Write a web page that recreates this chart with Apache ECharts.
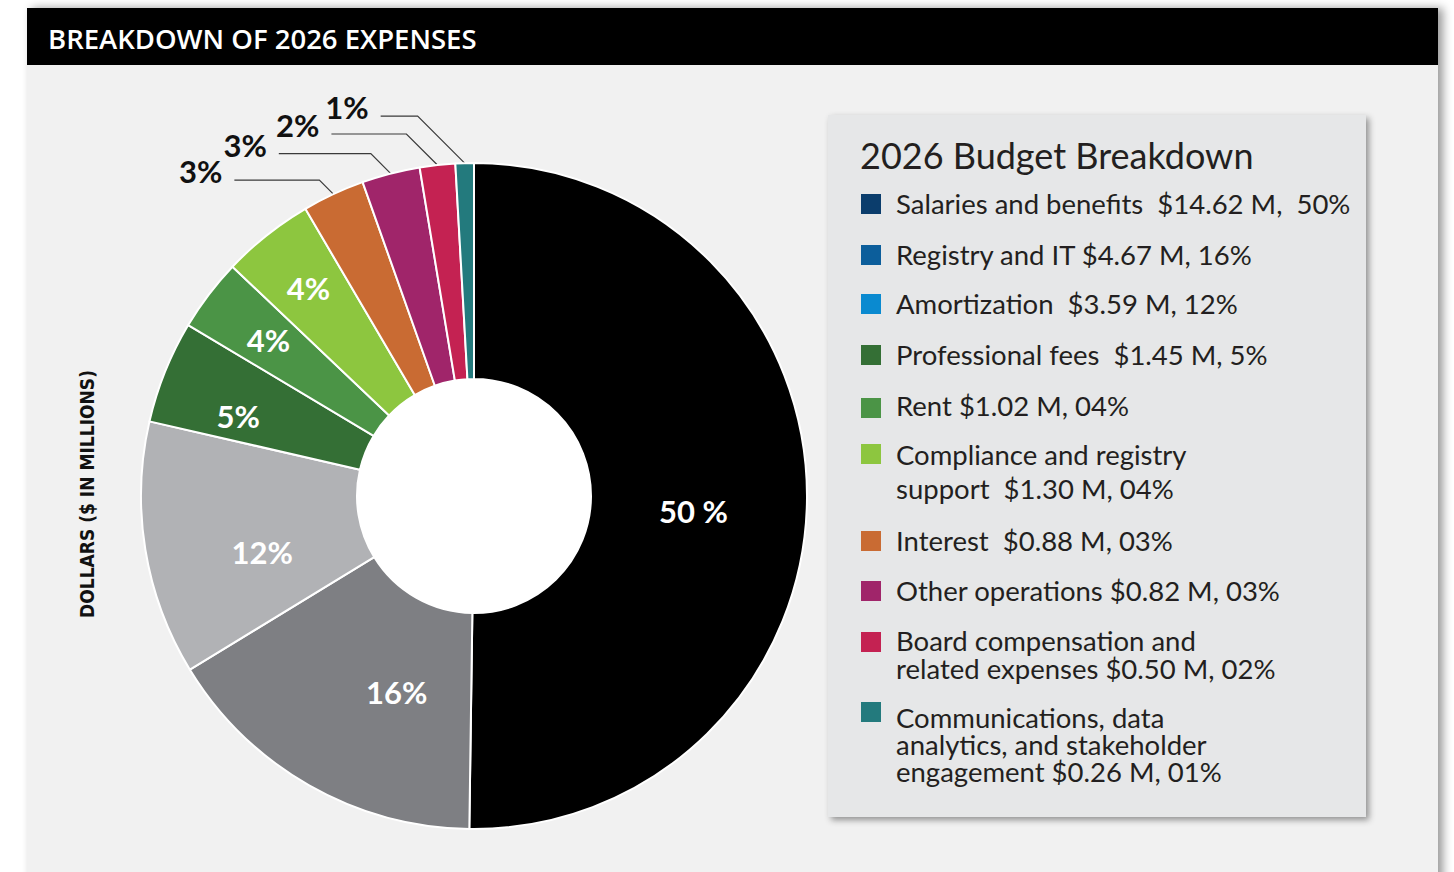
<!DOCTYPE html>
<html>
<head>
<meta charset="utf-8">
<title>Breakdown of 2026 Expenses</title>
<script src="https://cdn.jsdelivr.net/npm/echarts@6/dist/echarts.min.js"></script>
<style>
  html, body { margin: 0; padding: 0; background: #ffffff; }
  #chart { width: 1454px; height: 872px; }
</style>
</head>
<body>
<div id="chart"></div>
<script>
// ---- Data -------------------------------------------------------------
const categories = [
  'Salaries and benefits',
  'Registry and IT',
  'Amortization',
  'Professional fees',
  'Rent',
  'Compliance and registry\nsupport',
  'Interest',
  'Other operations',
  'Board compensation and\nrelated expenses',
  'Communications, data\nanalytics, and stakeholder\nengagement'
];
const amounts = [14.62, 4.67, 3.59, 1.45, 1.02, 1.30, 0.88, 0.82, 0.50, 0.26]; // $ millions
const sliceLabels = ['50 %', '16%', '12%', '5%', '4%', '4%', '3%', '3%', '2%', '1%'];
const legendPercents = ['50%', '16%', '12%', '5%', '04%', '04%', '03%', '03%', '02%', '01%'];

// ---- Styling ----------------------------------------------------------
const sliceColors = ['#000000', '#7e7f83', '#b1b2b5', '#346f35', '#4b9446', '#8dc63f',
                     '#c96b33', '#a0256a', '#c42252', '#237a7d'];
const swatchColors = ['#0b3d6c', '#0c5e9b', '#0a8ad0', '#346f35', '#4b9446', '#8dc63f',
                      '#c96b33', '#a0256a', '#c42252', '#237a7d'];
const nameGap  = ['  ', ' ', '  ', '  ', ' ', '  ', '  ', ' ', ' ', ' '];
const commaGap = ['  ', ' ', ' ', ' ', ' ', ' ', ' ', ' ', ' ', ' '];

const pieCenter = [474, 496];
const pieRadius = [117, 333];
const firstOutside = 6;                       // small slices get callout labels
const calloutRise = [14, 20, 31, 47];         // diagonal part of each leader line
const calloutRun  = [85, 92, 75, 37];         // horizontal part of each leader line
const insideLabelRadius = [220, 211, 219, 249, 258, 266];
const insideLabelTurn   = [3.4, -8.2, -5.6, -3.2, 0, 0]; // degrees, clockwise

const legendRowTop    = [194, 245, 294, 345, 398, 444, 531, 581, 632, 702];
const legendBaseline  = [214, 265, 314, 365, 416, 465, 551, 601, 651, 728];
const legendLineStep  = [30, 30, 30, 30, 30, 34, 30, 30, 28, 27];

const BODY_FONT = 'Lato, "Open Sans", sans-serif';
const LEGEND_FS = 27.5;
const LABEL_FS = 31;

// ---- Build ------------------------------------------------------------
const pieData = amounts.map((v, i) => {
  const outside = i >= firstOutside;
  return {
    name: categories[i],
    value: v,
    itemStyle: { color: sliceColors[i] },
    label: {
      show: true,
      position: outside ? 'outside' : 'inside',
      formatter: sliceLabels[i],
      color: outside ? '#111111' : '#ffffff',
      fontFamily: BODY_FONT,
      fontWeight: 'bold',
      fontSize: LABEL_FS
    },
    labelLine: {
      show: outside,
      length: 10,
      length2: 10,
      smooth: false,
      lineStyle: { color: '#3a3a3a', width: 1.2 }
    }
  };
});

const graphics = [
  // panel background with soft right shadow
  { type: 'rect', z: -20, shape: { x: 27, y: 8, width: 1411, height: 920 },
    style: { fill: '#f1f1f1', shadowBlur: 10, shadowOffsetX: 5, shadowColor: 'rgba(0,0,0,0.4)' } },
  // header bar
  { type: 'rect', z: -19, shape: { x: 27, y: 8, width: 1411, height: 57 },
    style: { fill: '#000000' } },
  { type: 'text', z: 5, x: 48, y: 38,
    style: { text: 'BREAKDOWN OF 2026 EXPENSES', fill: '#ffffff',
             font: '600 27.5px "Open Sans", Lato, sans-serif', verticalAlign: 'middle', align: 'left' } },
  // vertical axis caption
  { type: 'text', z: 5, x: 87, y: 494, rotation: Math.PI / 2,
    style: { text: 'DOLLARS ($ IN MILLIONS)', fill: '#111111',
             font: 'bold 19px "Liberation Sans Narrow", "DejaVu Sans Condensed", sans-serif',
             align: 'center', verticalAlign: 'middle' } },
  // legend panel
  { type: 'rect', z: -18, shape: { x: 828, y: 115, width: 538, height: 702 },
    style: { fill: '#e6e7e8', shadowBlur: 6, shadowOffsetX: 3, shadowOffsetY: 3, shadowColor: 'rgba(0,0,0,0.4)' } },
  { type: 'text', z: 5, x: 860, y: 169 - 0.38 * 36,
    style: { text: '2026 Budget Breakdown', fill: '#231f20', font: '36px ' + BODY_FONT,
             align: 'left', verticalAlign: 'middle' } }
];

categories.forEach((name, i) => {
  graphics.push({ type: 'rect', z: 5,
    shape: { x: 861, y: legendRowTop[i], width: 20, height: 20 },
    style: { fill: swatchColors[i] } });
  const lines = name.split('\n');
  lines[lines.length - 1] += nameGap[i] + '$' + amounts[i].toFixed(2) + ' M,' + commaGap[i] + legendPercents[i];
  const lh = legendLineStep[i];
  graphics.push({ type: 'text', z: 5,
    x: 896, y: legendBaseline[i] - 0.38 * LEGEND_FS - lh / 2,
    style: { text: lines.join('\n'), fill: '#231f20', font: LEGEND_FS + 'px ' + BODY_FONT,
             lineHeight: lh, align: 'left', verticalAlign: 'top' } });
});

const chart = echarts.init(document.getElementById('chart'), null, { renderer: 'svg' });
chart.setOption({
  animation: false,
  backgroundColor: '#ffffff',
  graphic: { elements: graphics },
  series: [
    {
      // white hole of the donut
      type: 'pie', silent: true, z: 1,
      center: pieCenter, radius: [0, pieRadius[0]],
      data: [{ value: 1, name: 'hole', itemStyle: { color: '#ffffff' } }],
      label: { show: false }, labelLine: { show: false },
      emphasis: { disabled: true }
    },
    {
      type: 'pie', z: 2,
      center: pieCenter,
      radius: pieRadius,
      startAngle: 90,
      clockwise: true,
      avoidLabelOverlap: false,
      itemStyle: { borderColor: '#ffffff', borderWidth: 2 },
      emphasis: { disabled: true },
      data: pieData,
      labelLayout: function (p) {
        if (p.seriesIndex !== 1) return {};
        const i = p.dataIndex;
        const k = i - firstOutside;
        if (k >= 0 && p.labelLinePoints) {
          const p0 = p.labelLinePoints[0];
          const p1 = [p0[0] - calloutRise[k], p0[1] - calloutRise[k]];
          const p2 = [p1[0] - calloutRun[k], p1[1]];
          return { x: p2[0] - 12, y: p2[1] - 9, align: 'right', verticalAlign: 'middle',
                   labelLinePoints: [p0, p1, p2] };
        }
        const r = p.labelRect;
        const cx = r.x + r.width / 2, cy = r.y + r.height / 2;
        const a = Math.atan2(cy - pieCenter[1], cx - pieCenter[0]) + insideLabelTurn[i] * Math.PI / 180;
        const d = insideLabelRadius[i];
        return { x: pieCenter[0] + d * Math.cos(a), y: pieCenter[1] + d * Math.sin(a),
                 align: 'center', verticalAlign: 'middle' };
      }
    }
  ]
});
</script>
</body>
</html>
